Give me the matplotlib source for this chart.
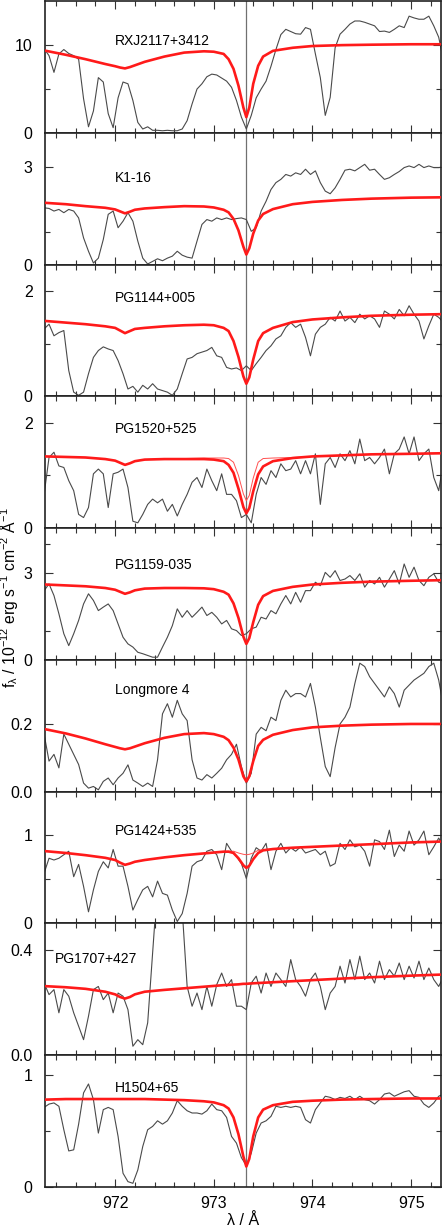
import numpy as np
import matplotlib
matplotlib.use('Agg')
import matplotlib.pyplot as plt

plt.rcParams['font.family'] = ['Liberation Sans', 'DejaVu Sans']
plt.rcParams['mathtext.fontset'] = 'custom'
plt.rcParams['mathtext.rm'] = 'Liberation Sans'
plt.rcParams['mathtext.default'] = 'regular'

# observed spectra share one wavelength grid (0.05 A steps)
wave = np.round(971.28 + 0.05 * np.arange(82), 2)
# model grid (denser around the two lines)
mod_wave = [971.30, 971.50, 971.70, 971.90, 972.00, 972.05, 972.10, 972.15, 972.20, 972.30,
            972.50, 972.70, 972.90, 973.00, 973.10, 973.15, 973.20, 973.25, 973.30, 973.33,
            973.36, 973.40, 973.45, 973.50, 973.60, 973.80, 974.00, 974.30, 974.60, 975.00, 975.30]
line_center = 973.33

names = ['RXJ2117+3412', 'K1-16', 'PG1144+005', 'PG1520+525', 'PG1159-035',
         'Longmore 4', 'PG1424+535', 'PG1707+427', 'H1504+65']

obs_rxj = [9.6, 8.8, 6.9, 9.0, 9.5, 9.05, 8.8, 8.4, 3.9, 0.7,
           2.5, 6.3, 5.8, 2.2, 0.6, 4.0, 5.8, 5.6, 3.7, 1.2,
           0.45, 0.7, 0.3, 0.3, 0.25, 0.3, 0.25, 0.25, 0.45, 1.4,
           3.3, 5.0, 5.6, 6.4, 6.7, 6.6, 6.25, 5.9, 5.2, 3.7,
           1.8, 0.45, 2.0, 4.0, 5.0, 5.9, 7.6, 9.5, 11.2, 11.8,
           11.55, 11.3, 11.25, 12.0, 11.8, 9.0, 6.3, 2.0, 4.05, 9.7,
           11.25, 11.8, 12.4, 12.75, 12.75, 12.6, 12.4, 12.2, 11.55, 11.6,
           11.45, 11.8, 12.2, 12.0, 13.3, 13.1, 12.95, 12.95, 13.3, 12.2,
           10.9, 8.2]
obs_k116 = [1.74, 1.72, 1.64, 1.69, 1.59, 1.69, 1.64, 1.43, 0.82, 0.41,
            0.05, 0.2, 0.77, 1.54, 1.64, 1.13, 1.33, 1.59, 1.33, 0.72,
            0.2, 0.02, 0.1, 0.18, 0.12, 0.2, 0.26, 0.41, 0.29, 0.23,
            0.2, 0.72, 1.23, 1.38, 1.33, 1.43, 1.38, 1.43, 1.38, 1.41,
            1.43, 1.38, 1.02, 1.13, 1.64, 1.94, 2.3, 2.51, 2.61, 2.76,
            2.71, 2.81, 2.76, 2.92, 2.76, 2.87, 2.51, 2.25, 2.17, 2.35,
            2.61, 2.89, 2.92, 2.87, 2.97, 3.07, 2.89, 2.92, 2.76, 2.61,
            2.66, 2.76, 2.85, 2.97, 3.02, 2.97, 3.07, 2.97, 3.02, 2.97,
            2.97, 2.99]
obs_1144 = [1.28, 1.37, 1.15, 1.21, 1.25, 0.49, 0.08, 0.02, 0.08, 0.43,
            0.74, 0.87, 0.94, 0.9, 0.87, 0.68, 0.43, 0.14, 0.19, 0.08,
            0.21, 0.14, 0.24, 0.14, 0.11, 0.08, 0.02, 0.14, 0.43, 0.71,
            0.74, 0.81, 0.84, 0.87, 0.93, 0.77, 0.74, 0.55, 0.52, 0.54,
            0.49, 0.58, 0.49, 0.62, 0.74, 0.87, 0.96, 1.09, 1.15, 1.31,
            1.4, 1.31, 1.37, 1.12, 0.77, 1.18, 1.31, 1.37, 1.5, 1.43,
            1.62, 1.43, 1.5, 1.4, 1.56, 1.47, 1.53, 1.47, 1.31, 1.62,
            1.56, 1.47, 1.65, 1.53, 1.72, 1.56, 1.43, 1.09, 1.34, 1.56,
            1.5, 1.4]
obs_1520 = [0.64, 1.34, 1.44, 1.18, 1.15, 0.9, 0.71, 0.26, 0.2, 0.39,
            1.03, 1.12, 1.03, 0.39, 1.03, 1.06, 1.12, 0.77, 0.13, 0.1,
            0.26, 0.45, 0.55, 0.48, 0.55, 0.32, 0.45, 0.23, 0.45, 0.64,
            0.87, 0.96, 0.77, 1.12, 0.9, 0.71, 1.03, 0.64, 0.64, 0.52,
            0.2, 0.26, 0.1, 0.64, 0.96, 0.83, 1.09, 0.96, 1.22, 1.09,
            1.12, 1.28, 1.03, 1.28, 1.03, 1.41, 0.45, 1.22, 1.34, 1.15,
            1.41, 1.28, 1.47, 1.22, 1.69, 1.28, 1.34, 1.22, 1.34, 1.5,
            1.03, 1.41, 1.5, 1.73, 1.41, 1.73, 1.28, 1.41, 1.5, 0.96,
            0.71, 1.28]
obs_1159 = [2.39, 2.62, 2.22, 1.59, 0.9, 0.49, 0.9, 1.36, 1.93, 2.28,
            2.05, 1.7, 1.82, 1.93, 1.7, 1.24, 0.78, 0.55, 0.44, 0.26,
            0.21, 0.15, 0.09, 0.09, 0.44, 0.78, 1.18, 1.76, 1.47, 1.7,
            1.47, 1.64, 1.82, 1.53, 1.64, 1.47, 1.24, 1.36, 1.07, 1.01,
            0.84, 0.9, 1.07, 1.13, 1.47, 1.41, 1.7, 1.59, 1.93, 2.22,
            1.93, 2.33, 1.99, 2.39, 2.39, 2.68, 2.56, 3.02, 2.85, 3.08,
            2.74, 2.79, 2.91, 2.74, 2.97, 2.51, 2.74, 2.62, 2.85, 2.51,
            2.79, 3.08, 2.62, 3.31, 2.85, 3.2, 2.74, 2.56, 2.85, 2.97,
            2.68, 2.62]
obs_lo4 = [0.17, 0.09, 0.11, 0.07, 0.17, 0.14, 0.11, 0.08, 0.025, 0.01,
           0.015, 0.005, 0.03, 0.04, 0.02, 0.04, 0.054, 0.079, 0.034, 0.025,
           0.015, 0.025, 0.015, 0.094, 0.23, 0.26, 0.22, 0.27, 0.23, 0.21,
           0.094, 0.04, 0.034, 0.05, 0.04, 0.054, 0.069, 0.094, 0.11, 0.14,
           0.074, 0.025, 0.054, 0.17, 0.19, 0.18, 0.22, 0.21, 0.27, 0.30,
           0.28, 0.29, 0.29, 0.28, 0.32, 0.25, 0.16, 0.074, 0.044, 0.13,
           0.2, 0.22, 0.25, 0.32, 0.38, 0.37, 0.34, 0.32, 0.3, 0.28,
           0.31, 0.29, 0.25, 0.3, 0.315, 0.33, 0.34, 0.35, 0.37, 0.38,
           0.33, 0.25]
obs_1424 = [0.57, 0.74, 0.72, 0.74, 0.78, 0.82, 0.53, 0.67, 0.42, 0.13,
            0.38, 0.59, 0.7, 0.63, 0.84, 0.65, 0.65, 0.42, 0.15, 0.27,
            0.38, 0.42, 0.3, 0.48, 0.34, 0.32, 0.15, 0.02, 0.11, 0.34,
            0.65, 0.7, 0.72, 0.82, 0.84, 0.78, 0.61, 0.91, 0.82, 0.76,
            0.68, 0.51, 0.74, 0.86, 0.82, 0.91, 0.61, 0.82, 0.91, 0.8,
            0.86, 0.82, 0.87, 0.8, 0.82, 0.84, 0.78, 0.82, 0.65, 0.68,
            0.91, 0.84, 0.95, 0.87, 0.89, 0.82, 0.65, 0.95, 0.93, 0.84,
            1.06, 0.76, 0.89, 0.82, 1.05, 0.89, 0.95, 1.05, 0.78, 0.87,
            0.97, 0.87]
obs_1707 = [0.273, 0.229, 0.248, 0.16, 0.248, 0.223, 0.16, 0.109, 0.058, 0.147,
            0.248, 0.26, 0.21, 0.235, 0.16, 0.235, 0.223, 0.172, 0.033, 0.058,
            0.039, 0.122, 0.387, 0.65, 0.65, 0.65, 0.65, 0.65, 0.55, 0.26,
            0.185, 0.235, 0.172, 0.26, 0.185, 0.267, 0.311, 0.26, 0.286, 0.185,
            0.185, 0.172, 0.273, 0.299, 0.235, 0.311, 0.26, 0.311, 0.286, 0.26,
            0.362, 0.286, 0.26, 0.223, 0.286, 0.311, 0.26, 0.172, 0.235, 0.26,
            0.337, 0.273, 0.362, 0.286, 0.375, 0.286, 0.311, 0.273, 0.356, 0.286,
            0.324, 0.299, 0.349, 0.286, 0.337, 0.292, 0.356, 0.286, 0.33, 0.286,
            0.26, 0.299]
obs_1504 = [0.71, 0.74, 0.75, 0.72, 0.51, 0.32, 0.33, 0.56, 0.84, 0.92,
            0.78, 0.48, 0.69, 0.71, 0.69, 0.45, 0.12, 0.045, 0.03, 0.15,
            0.36, 0.51, 0.54, 0.59, 0.56, 0.59, 0.66, 0.77, 0.72, 0.68,
            0.66, 0.66, 0.65, 0.68, 0.74, 0.69, 0.68, 0.62, 0.45, 0.39,
            0.26, 0.19, 0.3, 0.48, 0.57, 0.59, 0.63, 0.72, 0.71, 0.72,
            0.71, 0.72, 0.71, 0.6, 0.57, 0.69, 0.75, 0.81, 0.8, 0.78,
            0.8, 0.79, 0.81, 0.78, 0.81, 0.78, 0.77, 0.74, 0.78, 0.83,
            0.84, 0.81, 0.83, 0.85, 0.86, 0.81, 0.8, 0.74, 0.71, 0.75,
            0.81, 0.83]

mod_rxj = [9.35, 8.9, 8.4, 7.85, 7.6, 7.45, 7.35, 7.5, 7.7, 8.1,
           8.7, 9.15, 9.3, 9.25, 9.0, 8.4, 7.3, 5.4, 2.9, 1.8,
           2.9, 5.6, 7.65, 8.7, 9.35, 9.7, 9.9, 10.0, 10.05, 10.1, 10.1]
mod_k116 = [1.89, 1.85, 1.79, 1.74, 1.69, 1.63, 1.57, 1.62, 1.68, 1.72,
            1.76, 1.79, 1.78, 1.75, 1.68, 1.6, 1.4, 1.05, 0.55, 0.31,
            0.5, 0.95, 1.35, 1.55, 1.7, 1.85, 1.92, 1.98, 2.02, 2.05, 2.06]
mod_1144 = [1.43, 1.4, 1.37, 1.33, 1.3, 1.25, 1.2, 1.24, 1.28, 1.3,
            1.33, 1.35, 1.36, 1.35, 1.3, 1.24, 1.05, 0.75, 0.38, 0.24,
            0.36, 0.7, 1.05, 1.2, 1.3, 1.41, 1.46, 1.5, 1.53, 1.55, 1.56]
mod_1520 = [1.36, 1.35, 1.34, 1.31, 1.28, 1.24, 1.2, 1.23, 1.27, 1.3,
            1.31, 1.31, 1.31, 1.3, 1.27, 1.2, 1.05, 0.75, 0.4, 0.28,
            0.38, 0.7, 1.02, 1.17, 1.27, 1.33, 1.36, 1.38, 1.4, 1.41, 1.42]
mod_1520_thin = [1.36, 1.35, 1.34, 1.31, 1.28, 1.24, 1.2, 1.23, 1.27, 1.3,
                 1.31, 1.32, 1.33, 1.33, 1.33, 1.32, 1.25, 1.0, 0.65, 0.52,
                 0.62, 0.95, 1.25, 1.32, 1.33, 1.34, 1.36, 1.38, 1.4, 1.41, 1.42]
mod_1159 = [2.6, 2.57, 2.54, 2.48, 2.42, 2.35, 2.28, 2.33, 2.4, 2.46,
            2.48, 2.48, 2.47, 2.44, 2.35, 2.25, 1.95, 1.45, 0.8, 0.55,
            0.75, 1.3, 1.9, 2.2, 2.38, 2.52, 2.6, 2.66, 2.7, 2.73, 2.75]
mod_lo4 = [0.184, 0.172, 0.157, 0.14, 0.132, 0.128, 0.125, 0.128, 0.133, 0.143,
           0.159, 0.17, 0.173, 0.17, 0.162, 0.152, 0.13, 0.095, 0.045, 0.03,
           0.045, 0.09, 0.135, 0.153, 0.168, 0.182, 0.19, 0.195, 0.198, 0.2, 0.2]
mod_1424 = [0.82, 0.8, 0.775, 0.745, 0.72, 0.69, 0.665, 0.68, 0.7, 0.72,
            0.75, 0.775, 0.795, 0.805, 0.815, 0.815, 0.8, 0.74, 0.66, 0.63,
            0.655, 0.73, 0.8, 0.83, 0.845, 0.86, 0.87, 0.885, 0.9, 0.92, 0.93]
mod_1424_thin = [0.82, 0.8, 0.775, 0.745, 0.72, 0.69, 0.665, 0.68, 0.7, 0.72,
                 0.75, 0.775, 0.795, 0.805, 0.815, 0.82, 0.82, 0.8, 0.785, 0.78,
                 0.785, 0.8, 0.83, 0.84, 0.845, 0.86, 0.87, 0.885, 0.9, 0.92, 0.93]
mod_1707 = [0.261, 0.257, 0.251, 0.24, 0.23, 0.22, 0.214, 0.22, 0.23, 0.24,
            0.247, 0.253, 0.259, 0.262, 0.265, 0.266, 0.267, 0.268, 0.27, 0.27,
            0.271, 0.272, 0.273, 0.274, 0.276, 0.28, 0.284, 0.29, 0.295, 0.301, 0.305]
mod_1504 = [0.78, 0.785, 0.785, 0.785, 0.785, 0.785, 0.785, 0.785, 0.785, 0.785,
            0.78, 0.775, 0.765, 0.755, 0.73, 0.7, 0.62, 0.47, 0.27, 0.18,
            0.25, 0.45, 0.62, 0.69, 0.73, 0.76, 0.77, 0.78, 0.785, 0.79, 0.79]

observed = [obs_rxj, obs_k116, obs_1144, obs_1520, obs_1159, obs_lo4, obs_1424, obs_1707, obs_1504]
models = [mod_rxj, mod_k116, mod_1144, mod_1520, mod_1159, mod_lo4, mod_1424, mod_1707, mod_1504]
thin_models = [None, None, None, mod_1520_thin, None, None, mod_1424_thin, None, None]

# per panel: y range, labelled ticks, extra ticks, label position
ylims = [15, 4.03, 2.5, 2.5, 4.55, 0.39, 1.5, 0.5, 1.18]
yticks_major = [[0, 10], [0, 3], [0, 2], [0, 2], [0, 3], [0.0, 0.2], [0, 1], [0.0, 0.4], [0, 1]]
yticks_minor = [[5], [1], [1], [1], [1, 4], [], [0.5], [], [0.5]]
ylabels_fmt = ['%d', '%d', '%d', '%d', '%d', '%.1f', '%d', '%.1f', '%d']
name_x = [972.0, 972.0, 972.0, 972.0, 972.0, 972.0, 972.0, 971.39, 972.0]
name_y = [0.70, 0.66, 0.75, 0.755, 0.72, 0.77, 0.70, 0.73, 0.75]

fig, axes = plt.subplots(9, 1, figsize=(4.42, 12.32), dpi=100, sharex=True)
fig.subplots_adjust(left=0.102, right=0.997, top=0.999, bottom=0.0368, hspace=0)

for i, ax in enumerate(axes):
    ax.axvline(line_center, color='#707070', lw=0.9, zorder=1)
    ax.plot(wave, observed[i], color='#4a4a4a', lw=0.8, zorder=2)
    if thin_models[i] is not None:
        ax.plot(mod_wave, thin_models[i], color='#ff5050', lw=0.7, zorder=3)
    ax.plot(mod_wave, models[i], color='#ff1a1a', lw=1.9, zorder=4)
    ax.set_ylim(0, ylims[i])
    ax.set_xlim(971.29, 975.30)
    ax.set_yticks(yticks_major[i], labels=[ylabels_fmt[i] % v for v in yticks_major[i]])
    ax.set_yticks(yticks_minor[i], minor=True)
    ax.set_xticks([972, 973, 974, 975])
    ax.set_xticks(np.round(np.arange(971.4, 975.31, 0.2), 1), minor=True)
    ax.tick_params(which='both', direction='in', top=True, right=True,
                   color='#333333', width=0.8, labelsize=11.5)
    ax.tick_params(which='major', length=6)
    ax.tick_params(which='minor', length=3.6)
    ax.tick_params(axis='y', pad=9)
    ax.tick_params(axis='x', pad=7)
    for sp in ax.spines.values():
        sp.set_linewidth(1.2)
        sp.set_color('#222222')
    ax.text(name_x[i], name_y[i], names[i], transform=ax.get_xaxis_transform(),
            ha='left', va='center', fontsize=10)

axes[-1].set_xlabel('λ / Å', fontsize=11.5, labelpad=1)
ylab = fig.text(0.021, 0.515, r'f$_\lambda$ / 10$^{-12}$ erg s$^{-1}$ cm$^{-2}$ Å$^{-1}$',
                rotation=90, ha='center', va='center', fontsize=11)
# the label in the reference runs about 180 px; fit it to that length
fig.canvas.draw()
ylab_len = ylab.get_window_extent().height
ylab.set_fontsize(11 * 180.0 / ylab_len)

plt.savefig('out.png', dpi=100)
